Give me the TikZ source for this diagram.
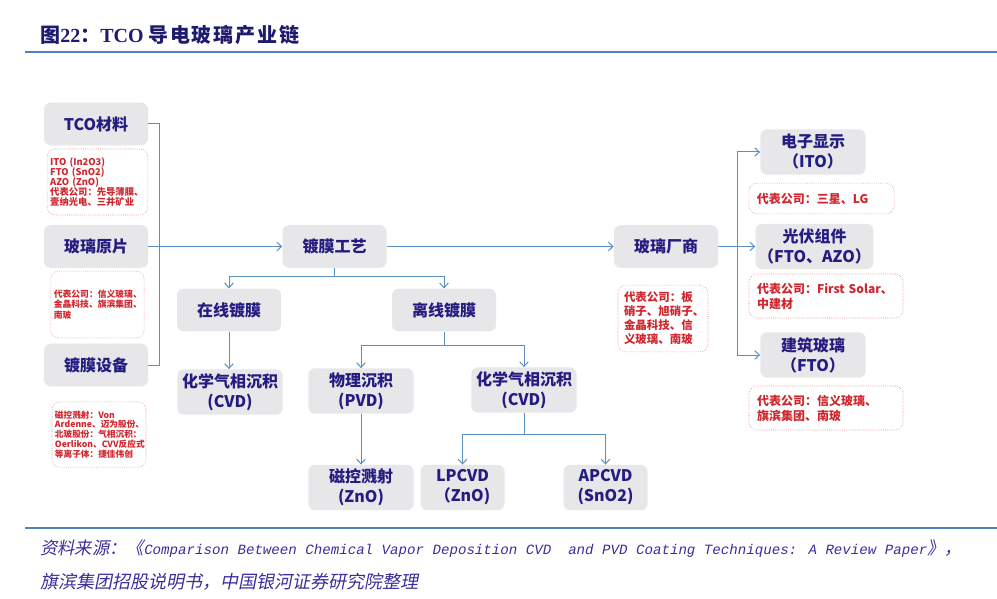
\documentclass[tikz,border=0pt]{standalone}
\usepackage{fontspec}
\usepackage{xcolor}
\usepackage{tikz}
\usetikzlibrary{arrows.meta, positioning, calc}

\setmainfont{Noto Sans CJK SC}
\newfontfamily\serifb{Liberation Serif}
\newfontfamily\monoit{Liberation Mono}
\newfontfamily\cjkslant{Noto Sans CJK SC}[FakeSlant=0.2]

\definecolor{boxgray}{HTML}{E7E6E9}
\definecolor{navy}{HTML}{241C80}
\definecolor{titlenavy}{HTML}{1E1A6E}
\definecolor{linkblue}{HTML}{5A8FC2}
\definecolor{rulebl}{HTML}{4F81BD}
\definecolor{redtext}{HTML}{D0262E}
\definecolor{redline}{HTML}{E26A6A}
\definecolor{capblue}{HTML}{3A2E9C}

\newcommand{\boxfont}{\fontsize{12}{15}\selectfont\bfseries}
\newcommand{\tk}{\kern1.4pt}

\begin{document}
\begin{tikzpicture}[
        x=0.75pt, y=-0.75pt,
        gbox/.style = {rectangle, fill=boxgray, rounded corners=5pt, text=navy, font=\boxfont, align=center, inner sep=2pt, minimum width=78pt, minimum height=32pt},
        tbox/.style = {gbox, minimum width=79pt, minimum height=34pt},
        rbox/.style = {rectangle, draw=redline, densely dotted, rounded corners=6pt, text=redtext, align=left, inner xsep=2.25pt, inner ysep=1pt},
        link/.style = {draw=linkblue, line width=0.75pt},
        arr/.style = {link, -{Straight Barb[length=3.5pt, width=6.5pt]}},
        rule/.style = {draw=rulebl, line width=2.2pt}
    ]
    \useasboundingbox (0,0) rectangle (997,599);

    % Title
    \node [anchor=base west, text=titlenavy, font=\fontsize{15}{18}\selectfont\bfseries, inner sep=0pt] (title) at (40,43)
        {图{\serifb 22}：{\serifb TCO} 导\tk 电\tk 玻\tk 璃\tk 产\tk 业\tk 链};
    \coordinate (rtop0) at (25,52);
    \coordinate (rtop1) at (997,52);
    \path [rule] (rtop0) -- (rtop1);

    % Left column
    \node [gbox] (tco) at (96,124) {TCO材料};
    \node [rbox, text width=71pt, minimum height=49.5pt, font=\fontsize{7}{7.6}\selectfont\bfseries] (tconote) at (97.5,182)
        {ITO (In2O3)\\FTO (SnO2)\\AZO (ZnO)\\代表公司：先导薄膜、\\壹纳光电、三井矿业};
    \node [gbox] (raw) at (96,246.5) {玻璃原片};
    \node [rbox, text width=65.5pt, minimum height=50pt, font=\fontsize{6.6}{7.6}\selectfont\bfseries] (rawnote) at (97.5,304.5)
        {代表公司：信义玻璃、\\金晶科技、旗滨集团、\\南玻};
    \node [gbox] (equip) at (96,365) {镀膜设备};
    \node [rbox, text width=66pt, minimum height=49pt, font=\fontsize{6.5}{7.4}\selectfont\bfseries] (equipnote) at (99,434.5)
        {磁控溅射：Von\\Ardenne、迈为股份、\\北玻股份：气相沉积：\\Oerlikon、CVV反应式\\等离子体：捷佳伟创};

    % Middle
    \node [gbox] (coat) at (334.5,246.5) {镀膜工艺};
    \node [gbox] (online) at (229,310) {在线镀膜};
    \node [gbox] (offline) at (444,310) {离线镀膜};
    \node [tbox] (cvdA) at (230,392) {化学气相沉积\\(CVD)};
    \node [tbox] (pvd) at (361,391) {物理沉积\\(PVD)};
    \node [tbox] (cvdB) at (524,390) {化学气相沉积\\(CVD)};
    \node [tbox] (mag) at (361,487.5) {磁控溅射\\(ZnO)};
    \node [tbox, minimum width=63pt] (lp) at (462.5,487.5) {LPCVD\\（ZnO)};
    \node [tbox, minimum width=63pt] (ap) at (605.5,487.5) {APCVD\\(SnO2)};

    % Right
    \node [gbox] (maker) at (666,246.5) {玻璃厂商};
    \node [rbox, text width=58.5pt, inner xsep=4.5pt, minimum height=50pt, font=\fontsize{8.6}{10.5}\selectfont\bfseries] (makernote) at (663,318.5)
        {代表公司：板\\硝子、旭硝子、\\金晶科技、信\\义玻璃、南玻};
    \node [tbox] (disp) at (813,152) {电子显示\\（ITO）};
    \node [rbox, text width=97pt, inner xsep=6pt, minimum height=23pt, font=\fontsize{9}{11.2}\selectfont\bfseries] (dispnote) at (821.5,198.5)
        {代表公司：三星、LG};
    \node [tbox] (pv) at (814.5,246.5) {光伏组件\\（FTO、AZO）};
    \node [rbox, text width=103.5pt, inner xsep=6pt, minimum height=33pt, font=\fontsize{9}{11.2}\selectfont\bfseries] (pvnote) at (826,296)
        {代表公司：First Solar、\\中建材};
    \node [tbox] (arch) at (813,355) {建筑玻璃\\（FTO）};
    \node [rbox, text width=103.5pt, inner xsep=6pt, minimum height=33pt, font=\fontsize{9}{11.2}\selectfont\bfseries] (archnote) at (826,408)
        {代表公司：信义玻璃、\\旗滨集团、南玻};

    % Junctions
    \coordinate (ltrunk) at (159,246.5);
    \coordinate (rtrunk) at (737,246.5);
    \coordinate (s1) at (334.5,277);
    \coordinate (s2) at (444,345);
    \coordinate (s3) at (524,434);

    % Edges
    \path [link] (tco.east) -| (ltrunk);
    \path [link] (equip.east) -| (ltrunk);
    \path [arr] (raw.east) -- (coat.west);
    \path [arr] (coat.east) -- (maker.west);
    \path [link] (maker.east) -- (rtrunk);
    \path [arr] (rtrunk) |- (disp.west);
    \path [arr] (rtrunk) -- (pv.west);
    \path [arr] (rtrunk) |- (arch.west);

    \path [link] (coat.south) -- (s1);
    \path [arr] (s1) -| (online.north);
    \path [arr] (s1) -| (offline.north);
    \path [arr] (online.south) -- (online.south |- cvdA.north);
    \path [link] (offline.south) -- (s2);
    \path [arr] (s2) -| (pvd.north);
    \path [arr] (s2) -| (cvdB.north);
    \path [arr] (pvd.south) -- (mag.north);
    \path [link] (cvdB.south) -- (s3);
    \path [arr] (s3) -| (lp.north);
    \path [arr] (s3) -| (ap.north);

    % Source
    \coordinate (rbot0) at (25,528);
    \coordinate (rbot1) at (997,528);
    \path [rule] (rbot0) -- (rbot1);
    \node [anchor=base west, inner sep=0pt, text=capblue, font=\fontsize{13}{16}\selectfont] (src1) at (40,554)
        {\cjkslant 资料来源：《{\monoit\itshape\fontsize{10.6}{14}\selectfont Comparison Between Chemical Vapor Deposition CVD\ \ and PVD Coating Techniques: A Review Paper}》，};
    \node [anchor=base west, inner sep=0pt, text=capblue, font=\fontsize{13.5}{16}\selectfont] (src2) at (40,588)
        {\cjkslant 旗滨集团招股说明书，中国银河证券研究院整理};

    \end{tikzpicture}
\end{document}
